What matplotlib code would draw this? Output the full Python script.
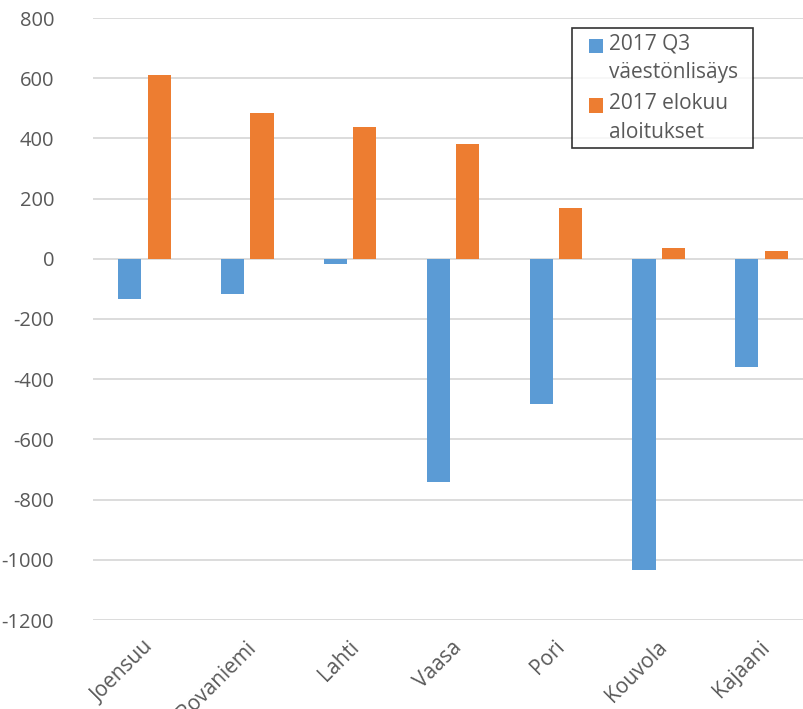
import matplotlib
matplotlib.use("Agg")
import matplotlib.pyplot as plt
import matplotlib.transforms as mtransforms
from matplotlib.container import BarContainer
from matplotlib.legend_handler import HandlerPatch, update_from_first_child
from matplotlib.patches import Rectangle
import numpy as np

cities = ["Joensuu", "Rovaniemi", "Lahti", "Vaasa", "Pori", "Kouvola", "Kajaani"]
pop_growth_q3 = [-135, -117, -16, -742, -483, -1033, -360]
starts_august = [610, 486, 439, 380, 169, 35, 25]
series_labels = ["2017 Q3\nväestönlisäys", "2017 elokuu\naloitukset"]
yticks = [800, 600, 400, 200, 0, -200, -400, -600, -800, -1000, -1200]

plt.rcParams['font.family'] = ['Open Sans', 'DejaVu Sans']

fig = plt.figure(figsize=(8.04, 7.09), dpi=100)
ax = fig.add_axes([93 / 804, 1 - 620 / 709, 720 / 804, 602 / 709])

x = np.arange(len(cities))
w = 0.225
gap = 0.06
blue = "#5B9BD5"
orange = "#ED7D31"
ax.bar(x - (w + gap) / 2, pop_growth_q3, width=w, color=blue, label=series_labels[0], zorder=3)
ax.bar(x + (w + gap) / 2, starts_august, width=w, color=orange, label=series_labels[1], zorder=3)

ax.set_xlim(-0.5, len(cities) - 0.5)
ax.set_ylim(-1200, 800)
ax.set_yticks(yticks)
ax.set_yticklabels([str(v) for v in yticks])
ax.yaxis.grid(True, color="#D9D9D9", linewidth=1.3, zorder=0)
ax.set_axisbelow(True)
for s in ax.spines.values():
    s.set_visible(False)
ax.tick_params(axis="y", length=0, pad=28, labelsize=14.5, labelcolor="#595959")
ax.tick_params(axis="x", length=0, pad=12, labelsize=15, labelcolor="#595959")
ax.set_xticks(x)
ax.set_xticklabels(cities, rotation=45, ha="right", rotation_mode="anchor")
shift = mtransforms.ScaledTranslation(-2 / 100, 0, fig.dpi_scale_trans)
for lbl in ax.get_xticklabels():
    lbl.set_transform(lbl.get_transform() + shift)


def square_handle(legend, orig_handle, xdescent, ydescent, width, height, fontsize):
    # square swatch on the right of the handle box, level with the first text line
    side = height
    return Rectangle((width - side - xdescent, -ydescent + 0.62 * fontsize), side, side)


leg = ax.legend(loc="upper left",
                bbox_to_anchor=((572 - 93) / 720, (620 - 147) / 602, (753 - 572) / 720, 119 / 602),
                mode="expand",
                frameon=True, fancybox=False, fontsize=15, handlelength=1.25, handleheight=0.7,
                handletextpad=0.3, borderpad=0.25, labelspacing=0.45, borderaxespad=0,
                handler_map={BarContainer: HandlerPatch(patch_func=square_handle,
                                                        update_func=update_from_first_child)})
leg.get_frame().set_edgecolor("black")
leg.get_frame().set_linewidth(1.2)
for t in leg.get_texts():
    t.set_color("#595959")
    t.set_linespacing(1.5)

fig.savefig("out.png", dpi=100)
